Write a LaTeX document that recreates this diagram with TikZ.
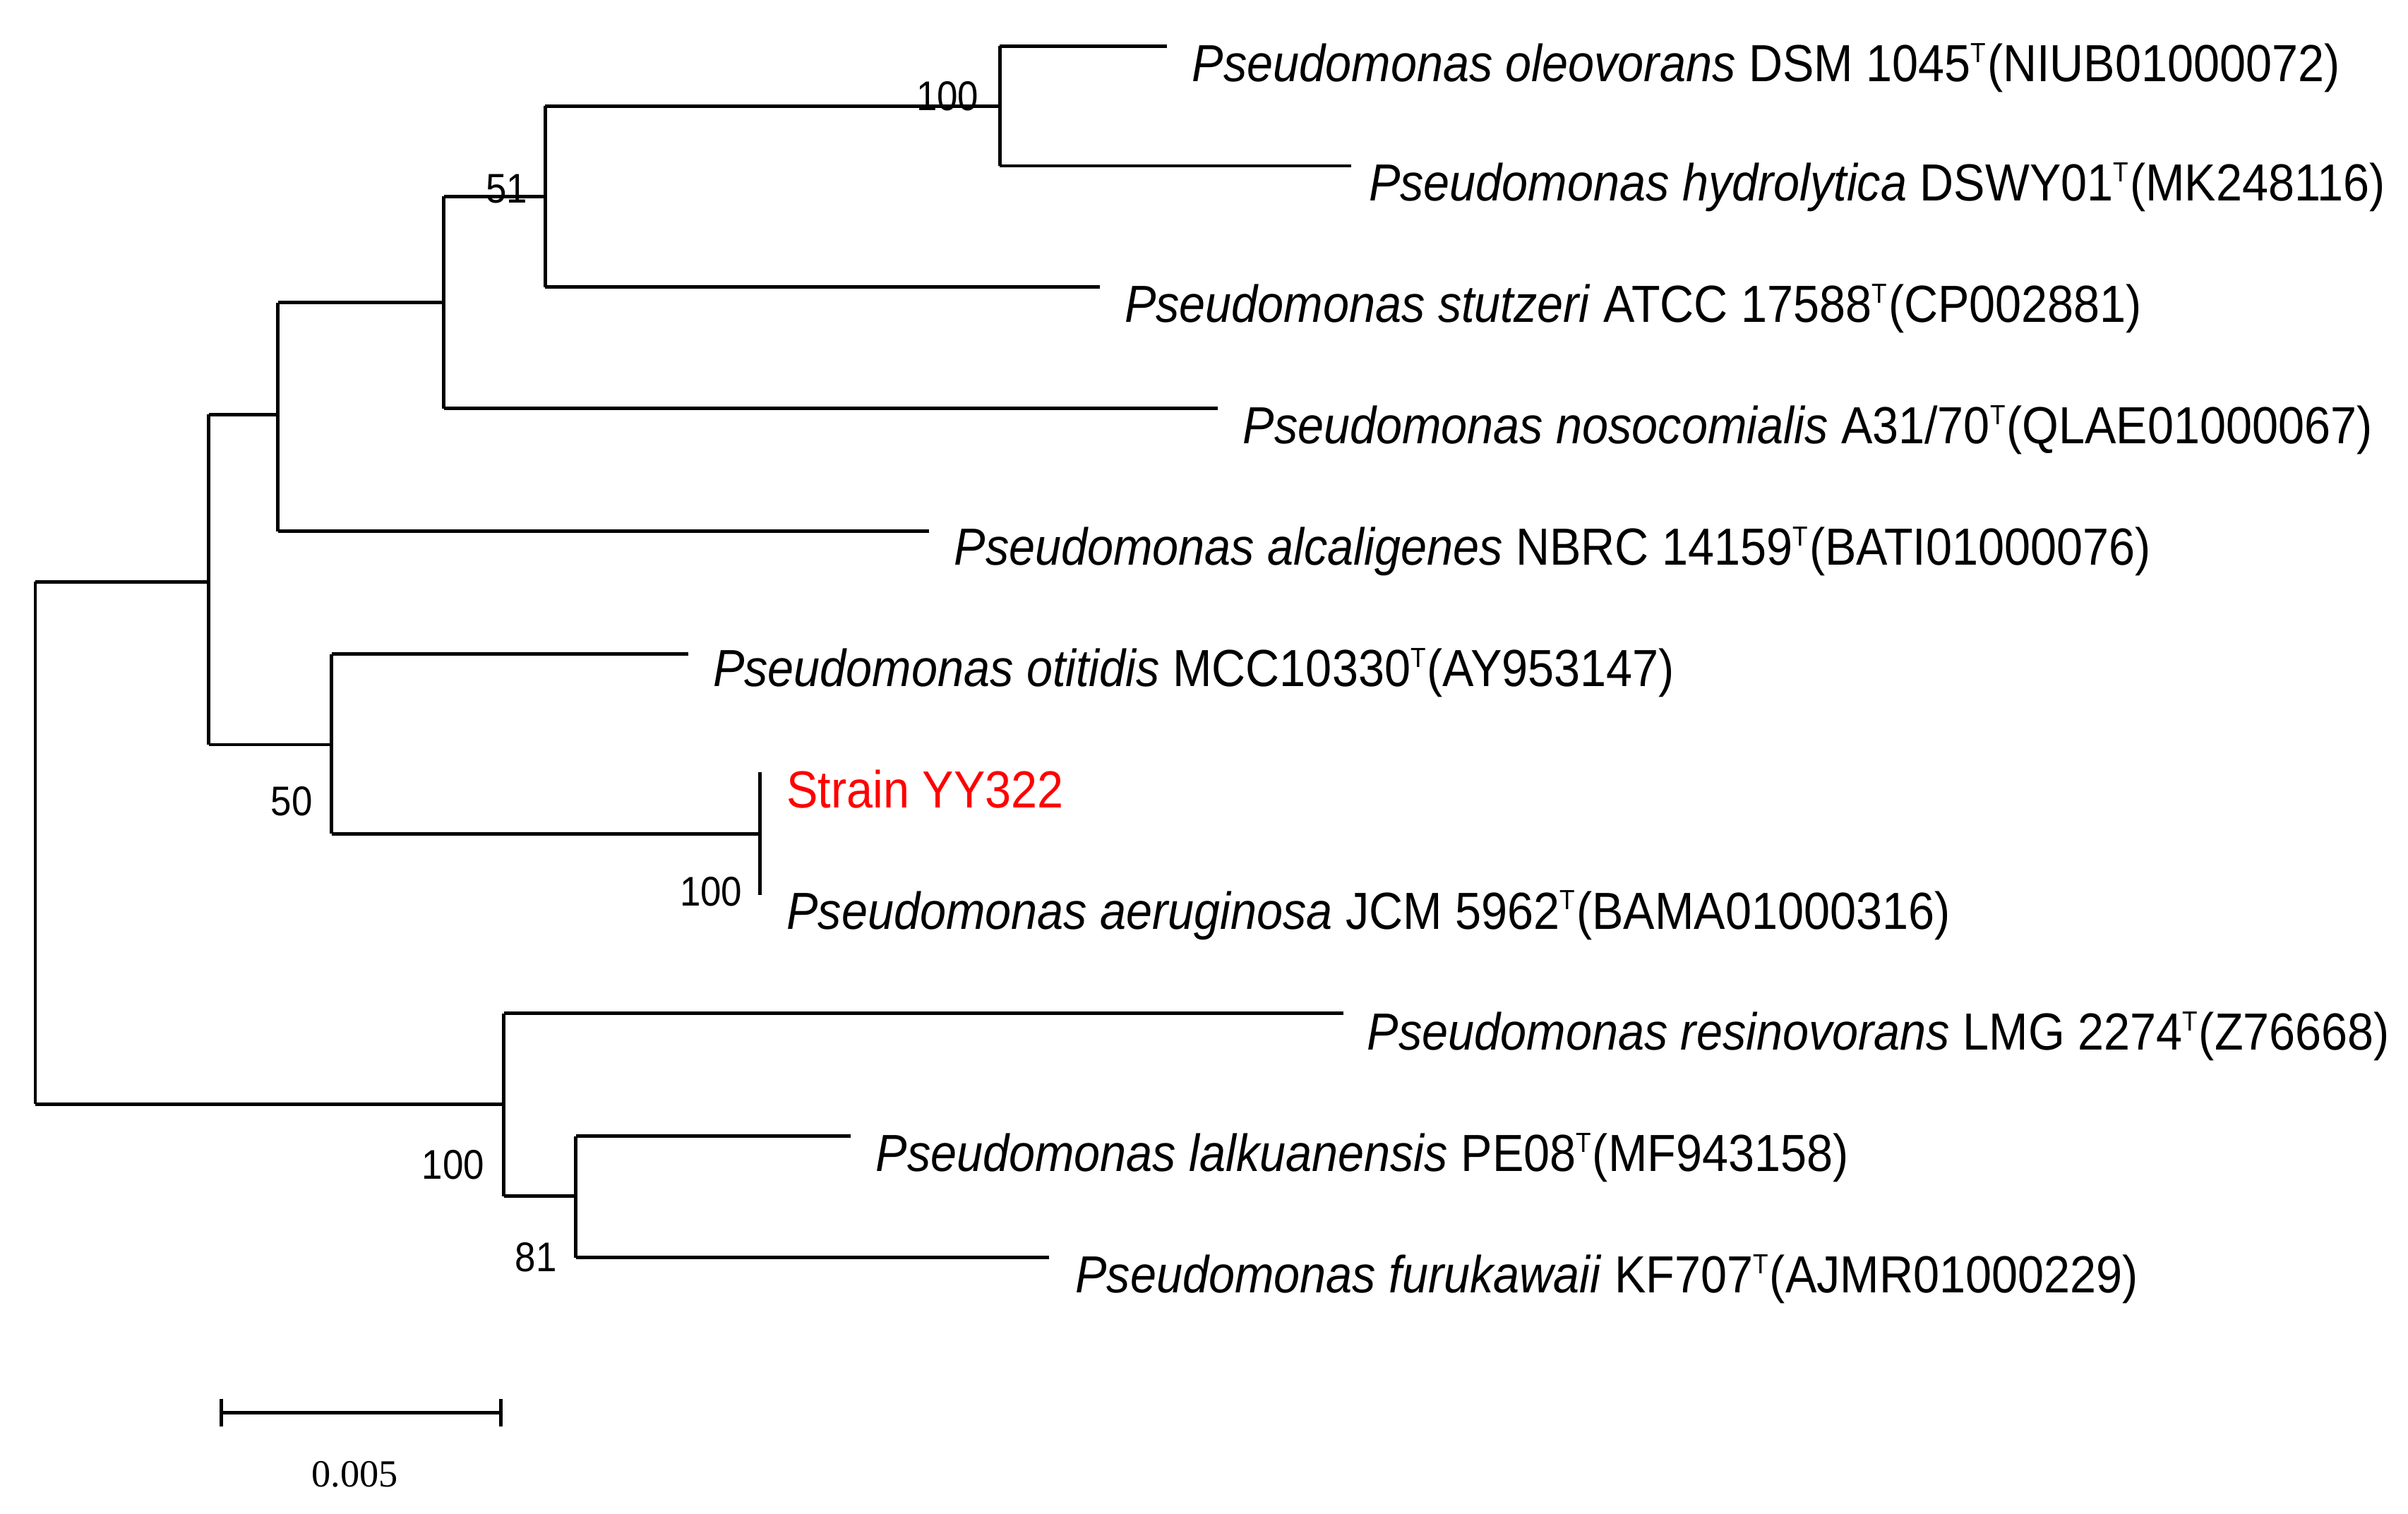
\documentclass[tikz,border=0pt]{standalone}
\usepackage{fontspec}
\setmainfont{Liberation Sans}
\newfontfamily\serifbar{Liberation Serif}
\tikzset{br/.style={line width=1.1pt},
 lab/.style={anchor=base west,font=\fontsize{17}{19}\selectfont,inner sep=0pt,xscale=0.9,transform shape},
 bs/.style={anchor=base,font=\fontsize{13.5}{15}\selectfont,inner sep=0pt,xscale=0.9,transform shape}}
\newcommand{\sT}{\textsuperscript{\fontsize{9}{10}\selectfont T}}
\begin{document}
\begin{tikzpicture}[x=0.5pt,y=-0.5pt]
\useasboundingbox (0,0) rectangle (1568,986);
\draw[br] (23,379)--(23,719);
\draw[br] (23,379)--(136,379); \draw[br] (136,270)--(136,485);
\draw[br] (136,270)--(181,270); \draw[br] (181,197)--(181,346);
\draw[br] (181,197)--(289,197); \draw[br] (181,346)--(605,346);
\draw[br] (289,128)--(289,266);
\draw[br] (289,128)--(355,128); \draw[br] (289,266)--(793,266);
\draw[br] (355,69)--(355,187);
\draw[br] (355,69)--(651,69); \draw[br] (355,187)--(716,187);
\draw[br] (651,30)--(651,108);
\draw[br] (651,30)--(760,30); \draw[br] (651,108)--(880,108);
\draw[br] (136,485)--(216,485); \draw[br] (216,426)--(216,543);
\draw[br] (216,426)--(448,426); \draw[br] (216,543)--(495,543);
\draw[br] (495,503)--(495,583);
\draw[br] (23,719)--(328,719); \draw[br] (328,660)--(328,779);
\draw[br] (328,660)--(875,660); \draw[br] (328,779)--(375,779);
\draw[br] (375,740)--(375,819);
\draw[br] (375,740)--(554,740); \draw[br] (375,819)--(683,819);
\node[lab] (t1) at (776,53) {\textit{Pseudomonas oleovorans} DSM 1045\sT(NIUB01000072)};
\node[lab] (t2) at (891,131) {\textit{Pseudomonas hydrolytica} DSWY01\sT(MK248116)};
\node[lab] (t3) at (732,210) {\textit{Pseudomonas stutzeri} ATCC 17588\sT(CP002881)};
\node[lab] (t4) at (809,289) {\textit{Pseudomonas nosocomialis} A31/70\sT(QLAE01000067)};
\node[lab] (t5) at (621,368) {\textit{Pseudomonas alcaligenes} NBRC 14159\sT(BATI01000076)};
\node[lab] (t6) at (464,447) {\textit{Pseudomonas otitidis} MCC10330\sT(AY953147)};
\node[lab,text=red] (t7) at (512,526) {Strain YY322};
\node[lab] (t8) at (512,605) {\textit{Pseudomonas aeruginosa} JCM 5962\sT(BAMA01000316)};
\node[lab] (t9) at (890,684) {\textit{Pseudomonas resinovorans} LMG 2274\sT(Z76668)};
\node[lab] (t10) at (570,763) {\textit{Pseudomonas lalkuanensis} PE08\sT(MF943158)};
\node[lab] (t11) at (700,842) {\textit{Pseudomonas furukawaii} KF707\sT(AJMR01000229)};
\node[bs] (b1) at (617,72) {100};
\node[bs] (b2) at (330,132) {51};
\node[bs] (b3) at (190,531) {50};
\node[bs] (b4) at (463,590) {100};
\node[bs] (b5) at (295,768) {100};
\node[bs] (b6) at (349,828) {81};
\draw[br] (144,920)--(326,920);
\draw[br] (144,911)--(144,929); \draw[br] (326,911)--(326,929);
\node[font=\serifbar\fontsize{12.5}{14}\selectfont] (sc) at (231,960) {0.005};
\end{tikzpicture}
\end{document}
